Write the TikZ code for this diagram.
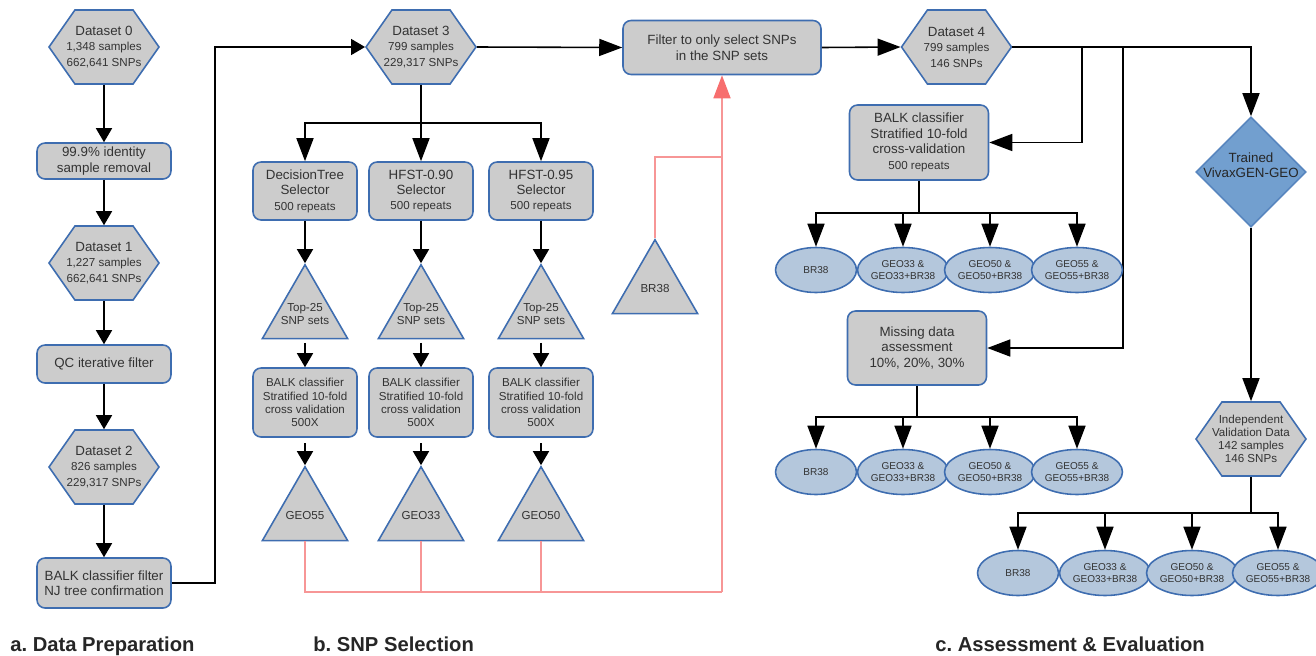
\documentclass[tikz,border=0pt]{standalone}
\usepackage{fontspec}
\setmainfont{Liberation Sans}
\usetikzlibrary{arrows.meta,shapes.geometric,shapes.symbols}
\definecolor{grau}{HTML}{CCCCCC}
\definecolor{rand}{HTML}{3E6DB0}
\definecolor{hblau}{HTML}{B4C7DC}
\definecolor{blau}{HTML}{729FCF}
\definecolor{rot}{HTML}{F79696}
\definecolor{rotd}{HTML}{F76E6E}
\definecolor{schrift}{HTML}{333333}
\newcommand{\klein}{\fontsize{6.6}{7.5}\selectfont}
\tikzset{
  feld/.style={fill=grau,draw=rand,line width=0.9pt,text=schrift,align=center,font=\fontsize{7.6}{8.8}\selectfont,inner sep=1pt},
  daten/.style={feld,signal,signal to=west and east,signal pointer angle=110,minimum width=2.2cm,minimum height=1.48cm,inner xsep=-6pt},
  schritt/.style={feld,rounded corners=0.16cm},
  satz/.style={feld,regular polygon,regular polygon sides=3,minimum size=1.97cm,inner sep=0pt},
  inhalt/.style={text=schrift,align=center,font=\klein,inner sep=0pt},
  ergebnis/.style={ellipse,fill=hblau,draw=rand,line width=0.9pt,text=schrift,align=center,font=\fontsize{5.7}{6.8}\selectfont,minimum width=1.62cm,minimum height=0.9cm,inner sep=0pt},
  modell/.style={diamond,fill=blau,draw=rand!50!blau,line width=0.9pt,minimum width=2.2cm,minimum height=2.2cm,inner sep=0pt},
  linie/.style={line width=0.9pt},
  pfeil/.style={linie,-{Triangle[length=0.46cm,width=0.34cm]}},
  pfeilk/.style={linie,-{Triangle[length=0.28cm,width=0.32cm]}},
  rotlinie/.style={rot,line width=0.9pt},
  pfeilr/.style={rotlinie,-{Triangle[length=0.46cm,width=0.34cm,color=rotd]}},
  titel/.style={font=\bfseries\fontsize{11.5}{13}\selectfont,text=black!85,anchor=base west,inner sep=0pt},
}
\begin{document}
\begin{tikzpicture}[x=0.02cm,y=-0.02cm]
  \useasboundingbox (0,0) rectangle (1316,656);
  % a. Data Preparation
  \node[daten] (d0) at (104,47) {Dataset 0\\\klein 1,348 samples\\\klein 662,641 SNPs};
  \node[schritt,minimum width=2.68cm,minimum height=0.72cm] (ident) at (104,161) {99.9\% identity\\sample removal};
  \node[daten] (d1) at (104,263) {Dataset 1\\\klein 1,227 samples\\\klein 662,641 SNPs};
  \node[schritt,minimum width=2.68cm,minimum height=0.76cm] (qc) at (104,364) {QC iterative filter};
  \node[daten] (d2) at (104,467) {Dataset 2\\\klein 826 samples\\\klein 229,317 SNPs};
  \node[schritt,minimum width=2.68cm,minimum height=1.0cm] (bf) at (104,583) {BALK classifier filter\\NJ tree confirmation};
  \draw[pfeilk] (d0.south) -- (ident.north);
  \draw[pfeilk] (ident.south) -- (d1.north);
  \draw[pfeilk] (d1.south) -- (qc.north);
  \draw[pfeilk] (qc.south) -- (d2.north);
  \draw[pfeilk] (d2.south) -- (bf.north);
  % b. SNP Selection
  \node[daten] (d3) at (421,47) {Dataset 3\\\klein 799 samples\\\klein 229,317 SNPs};
  \node[schritt,minimum width=3.96cm,minimum height=1.08cm] (filter) at (722,47.5) {Filter to only select SNPs\\in the SNP sets};
  \coordinate (knickA) at (215,583);
  \draw[pfeilk] (bf.east) -- (knickA) |- (d3.west);
  \draw[pfeil] (d3.east) -- (filter.west);
  \node[schritt,minimum width=2.08cm,minimum height=1.16cm] (sel1) at (305,191) {DecisionTree\\Selector\\\klein 500 repeats};
  \node[schritt,minimum width=2.08cm,minimum height=1.16cm] (sel2) at (421,191) {HFST-0.90\\Selector\\\klein 500 repeats};
  \node[schritt,minimum width=2.08cm,minimum height=1.16cm] (sel3) at (541,191) {HFST-0.95\\Selector\\\klein 500 repeats};
  \coordinate (gabelB) at (421,123);
  \draw[linie] (d3.south) -- (gabelB);
  \foreach \s in {sel1,sel2,sel3}
    \draw[pfeil] (gabelB) -| (\s.north);
  \node[satz,label={[inhalt]center:Top-25\\SNP sets}] (top1) at (305,314) {};
  \node[satz,label={[inhalt]center:Top-25\\SNP sets}] (top2) at (421,314) {};
  \node[satz,label={[inhalt]center:Top-25\\SNP sets}] (top3) at (541,314) {};
  \node[schritt,font=\klein,minimum width=2.08cm,minimum height=1.38cm] (balk1) at (305,402.5) {BALK classifier\\Stratified 10-fold\\cross validation\\500X};
  \node[schritt,font=\klein,minimum width=2.08cm,minimum height=1.38cm] (balk2) at (421,402.5) {BALK classifier\\Stratified 10-fold\\cross validation\\500X};
  \node[schritt,font=\klein,minimum width=2.08cm,minimum height=1.38cm] (balk3) at (541,402.5) {BALK classifier\\Stratified 10-fold\\cross validation\\500X};
  \node[satz,label={[inhalt]center:GEO55}] (geo55) at (305,516) {};
  \node[satz,label={[inhalt]center:GEO33}] (geo33) at (421,516) {};
  \node[satz,label={[inhalt]center:GEO50}] (geo50) at (541,516) {};
  \node[satz,label={[inhalt]center:BR38}] (br) at (655,289) {};
  \draw[pfeilk] (sel1.south) -- (top1.north);
  \draw[pfeilk] (sel2.south) -- (top2.north);
  \draw[pfeilk] (sel3.south) -- (top3.north);
  \draw[pfeilk,shorten <=2pt] (top1.south) -- (balk1.north);
  \draw[pfeilk,shorten <=2pt] (top2.south) -- (balk2.north);
  \draw[pfeilk,shorten <=2pt] (top3.south) -- (balk3.north);
  \draw[pfeilk,shorten <=3pt] (balk1.south) -- (geo55.north);
  \draw[pfeilk,shorten <=3pt] (balk2.south) -- (geo33.north);
  \draw[pfeilk,shorten <=3pt] (balk3.south) -- (geo50.north);
  % rote Rueckfuehrung
  \coordinate (sammel) at (722,592);
  \coordinate (knickR) at (722,157);
  \draw[rotlinie] (geo55.south) |- (sammel);
  \draw[rotlinie] (geo33.south) -- (geo33.south |- sammel);
  \draw[rotlinie] (geo50.south) -- (geo50.south |- sammel);
  \draw[rotlinie] (br.north) |- (knickR);
  \draw[pfeilr] (sammel) -- (filter.south);
  % c. Assessment & Evaluation
  \node[daten] (d4) at (956.5,47) {Dataset 4\\\klein 799 samples\\\klein 146 SNPs};
  \draw[pfeil] (filter.east) -- (d4.west);
  \node[schritt,minimum width=2.78cm,minimum height=1.5cm] (balkc) at (919,142.5) {BALK classifier\\Stratified 10-fold\\cross-validation\\\klein 500 repeats};
  \node[schritt,minimum width=2.78cm,minimum height=1.48cm] (miss) at (917,348) {Missing data\\assessment\\10\%, 20\%, 30\%};
  \node[modell,label={[inhalt,font=\fontsize{7.6}{8.8}\selectfont,text=black!85,yshift=4pt]center:Trained\\VivaxGEN-GEO}] (vgg) at (1251,172) {};
  \node[daten,font=\klein] (ind) at (1251,439) {Independent\\Validation Data\\142 samples\\146 SNPs};
  \coordinate (abzw1) at (1082,47);
  \coordinate (abzw2) at (1123,47);
  \draw[pfeil] (d4.east) -| (vgg.north);
  \draw[pfeil] (abzw1) |- (balkc.east);
  \draw[pfeil] (abzw2) |- (miss.east);
  \draw[pfeil] (vgg.south) -- (ind.north);
  \node[ergebnis] (e11) at (816,270) {BR38};
  \node[ergebnis] (e12) at (903,270) {GEO33 \&\\GEO33+BR38};
  \node[ergebnis] (e13) at (990,270) {GEO50 \&\\GEO50+BR38};
  \node[ergebnis] (e14) at (1077,270) {GEO55 \&\\GEO55+BR38};
  \node[ergebnis] (e21) at (816,472) {BR38};
  \node[ergebnis] (e22) at (903,472) {GEO33 \&\\GEO33+BR38};
  \node[ergebnis] (e23) at (990,472) {GEO50 \&\\GEO50+BR38};
  \node[ergebnis] (e24) at (1077,472) {GEO55 \&\\GEO55+BR38};
  \node[ergebnis] (e31) at (1018,573) {BR38};
  \node[ergebnis] (e32) at (1105,573) {GEO33 \&\\GEO33+BR38};
  \node[ergebnis] (e33) at (1192,573) {GEO50 \&\\GEO50+BR38};
  \node[ergebnis] (e34) at (1278,573) {GEO55 \&\\GEO55+BR38};
  \coordinate (gabel1) at (919,213);
  \coordinate (gabel2) at (917,417);
  \coordinate (gabel3) at (1251,513);
  \draw[linie] (balkc.south) -- (gabel1);
  \draw[linie] (miss.south) -- (gabel2);
  \draw[linie] (ind.south) -- (gabel3);
  \foreach \e in {e11,e12,e13,e14}
    \draw[pfeil] (gabel1) -| (\e.north);
  \foreach \e in {e21,e22,e23,e24}
    \draw[pfeil] (gabel2) -| (\e.north);
  \foreach \e in {e31,e32,e33,e34}
    \draw[pfeil] (gabel3) -| (\e.north);
  % Titel
  \node[titel] (ta) at (10,651) {a.\ Data Preparation};
  \node[titel] (tb) at (313,651) {b.\ SNP Selection};
  \node[titel] (tc) at (935,651) {c.\ Assessment \& Evaluation};
\end{tikzpicture}
\end{document}
